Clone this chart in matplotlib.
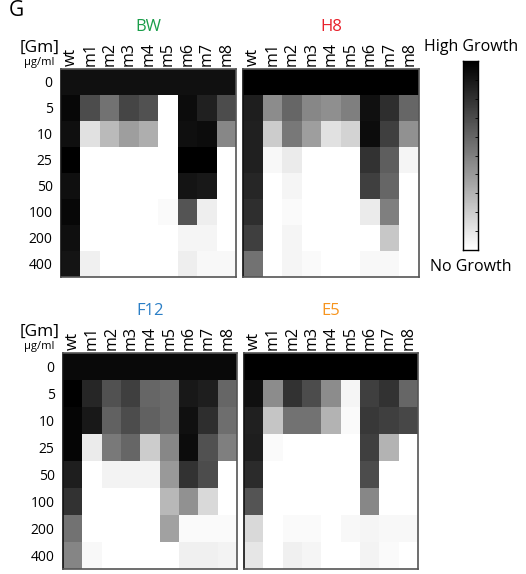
import matplotlib
matplotlib.use("Agg")
from matplotlib import pyplot as plt
import numpy as np

plt.rcParams['font.family'] = ['Open Sans', 'DejaVu Sans']

W, H = 526, 574

strains = ["wt", "m1", "m2", "m3", "m4", "m5", "m6", "m7", "m8"]
doses = ["0", "5", "10", "25", "50", "100", "200", "400"]

# growth, 0 = no growth (white), 1 = high growth (black)
bw = [
    [0.93, 0.93, 0.93, 0.93, 0.93, 0.93, 0.93, 0.93, 0.93],
    [0.97, 0.70, 0.55, 0.73, 0.68, 0.00, 0.95, 0.87, 0.70],
    [0.94, 0.12, 0.27, 0.38, 0.32, 0.00, 0.94, 0.95, 0.47],
    [1.00, 0.00, 0.00, 0.00, 0.00, 0.00, 1.00, 1.00, 0.00],
    [0.94, 0.00, 0.00, 0.00, 0.00, 0.00, 0.92, 0.90, 0.00],
    [0.97, 0.00, 0.00, 0.00, 0.00, 0.02, 0.67, 0.07, 0.00],
    [0.94, 0.00, 0.00, 0.00, 0.00, 0.00, 0.04, 0.04, 0.00],
    [0.92, 0.06, 0.00, 0.00, 0.00, 0.00, 0.07, 0.03, 0.03],
]
h8 = [
    [1.00, 1.00, 1.00, 1.00, 1.00, 1.00, 1.00, 1.00, 1.00],
    [0.88, 0.45, 0.60, 0.47, 0.44, 0.50, 0.93, 0.82, 0.60],
    [0.87, 0.20, 0.53, 0.38, 0.12, 0.17, 0.95, 0.75, 0.43],
    [0.87, 0.03, 0.08, 0.00, 0.00, 0.00, 0.80, 0.63, 0.04],
    [0.85, 0.00, 0.04, 0.00, 0.00, 0.00, 0.75, 0.60, 0.00],
    [0.82, 0.00, 0.02, 0.00, 0.00, 0.00, 0.08, 0.50, 0.00],
    [0.75, 0.00, 0.04, 0.00, 0.00, 0.00, 0.00, 0.22, 0.00],
    [0.55, 0.00, 0.04, 0.02, 0.00, 0.00, 0.03, 0.03, 0.00],
]
f12 = [
    [0.96, 0.96, 0.96, 0.96, 0.96, 0.96, 0.96, 0.96, 0.96],
    [1.00, 0.85, 0.68, 0.75, 0.60, 0.58, 0.90, 0.88, 0.60],
    [0.98, 0.90, 0.62, 0.70, 0.62, 0.58, 0.93, 0.82, 0.57],
    [0.98, 0.08, 0.52, 0.60, 0.20, 0.47, 0.95, 0.68, 0.50],
    [0.88, 0.00, 0.05, 0.05, 0.05, 0.40, 0.80, 0.70, 0.00],
    [0.80, 0.00, 0.00, 0.00, 0.00, 0.28, 0.43, 0.15, 0.00],
    [0.55, 0.00, 0.00, 0.00, 0.00, 0.37, 0.02, 0.02, 0.02],
    [0.48, 0.03, 0.00, 0.00, 0.00, 0.00, 0.06, 0.06, 0.05],
]
e5 = [
    [1.00, 1.00, 1.00, 1.00, 1.00, 1.00, 1.00, 1.00, 1.00],
    [0.93, 0.45, 0.80, 0.70, 0.45, 0.04, 0.75, 0.80, 0.60],
    [0.87, 0.23, 0.55, 0.55, 0.30, 0.02, 0.78, 0.75, 0.72],
    [0.88, 0.02, 0.00, 0.00, 0.00, 0.00, 0.75, 0.30, 0.00],
    [0.83, 0.00, 0.00, 0.00, 0.00, 0.00, 0.70, 0.00, 0.00],
    [0.67, 0.00, 0.00, 0.00, 0.00, 0.00, 0.47, 0.00, 0.00],
    [0.15, 0.00, 0.02, 0.02, 0.00, 0.03, 0.04, 0.03, 0.03],
    [0.10, 0.00, 0.06, 0.04, 0.00, 0.00, 0.05, 0.02, 0.00],
]

# name, title colour, data, box in pixels (left, top, right, bottom), row labels
panels = [
    ("BW", "#1a9e4a", bw, (61, 69, 236, 277), True),
    ("H8", "#e8202a", h8, (243, 69, 419, 277), False),
    ("F12", "#2b7fc6", f12, (63, 353, 237, 569), True),
    ("E5", "#f7941d", e5, (244, 353, 418, 569), False),
]


def px(l, t, r, b):
    return [l / W, 1 - b / H, (r - l) / W, (b - t) / H]


fig = plt.figure(figsize=(W / 100, H / 100), dpi=100)

for name, col, data, box, rowlabels in panels:
    ax = fig.add_axes(px(*box))
    ax.imshow(np.array(data), cmap="gray_r", vmin=0, vmax=1,
              aspect="auto", interpolation="nearest")
    ax.xaxis.tick_top()
    ax.set_xticks(range(len(strains)))
    ax.set_xticklabels(strains, rotation=90, fontsize=11.5)
    ax.set_yticks(range(len(doses)))
    if rowlabels:
        ax.set_yticklabels(doses, fontsize=10)
    else:
        ax.set_yticklabels([])
    ax.tick_params(axis="x", length=0, pad=2)
    ax.tick_params(axis="y", length=0, pad=6)
    for s in ax.spines.values():
        s.set_color("#555555")
        s.set_linewidth(1.2)
    ax.spines["left"].set_color("#111111")
    l, t, r, b = box
    fig.text((l + r) / 2 / W, 1 - (t - 42) / H, name, color=col,
             fontsize=12, ha="center", va="center")
    if rowlabels:
        fig.text(20 / W, 1 - (t - 21) / H, "[Gm]", fontsize=12.5,
                 ha="left", va="center")
        fig.text(24 / W, 1 - (t - 7) / H, "µg/ml", fontsize=8,
                 ha="left", va="center")

# colour bar
cax = fig.add_axes(px(463, 61, 478, 250))
grad = np.linspace(1, 0, 64).reshape(-1, 1)
cax.imshow(grad, cmap="gray_r", vmin=0, vmax=1, aspect="auto",
           extent=[0, 1, 0, 1])
cax.set_xticks([])
cax.yaxis.tick_right()
cax.set_yticks(np.linspace(0, 1, 11)[1:-1])
cax.set_yticklabels([])
cax.tick_params(axis="y", direction="in", length=2, width=0.6)
for s in cax.spines.values():
    s.set_linewidth(1.0)
fig.text(471 / W, 1 - 47 / H, "High Growth", ha="center", va="center",
         fontsize=11.5)
fig.text(471 / W, 1 - 267 / H, "No Growth", ha="center", va="center",
         fontsize=11.5)

fig.text(9 / W, 1 - 16 / H, "G", fontsize=15, ha="left", va="baseline")

fig.savefig("out.png", dpi=100)
